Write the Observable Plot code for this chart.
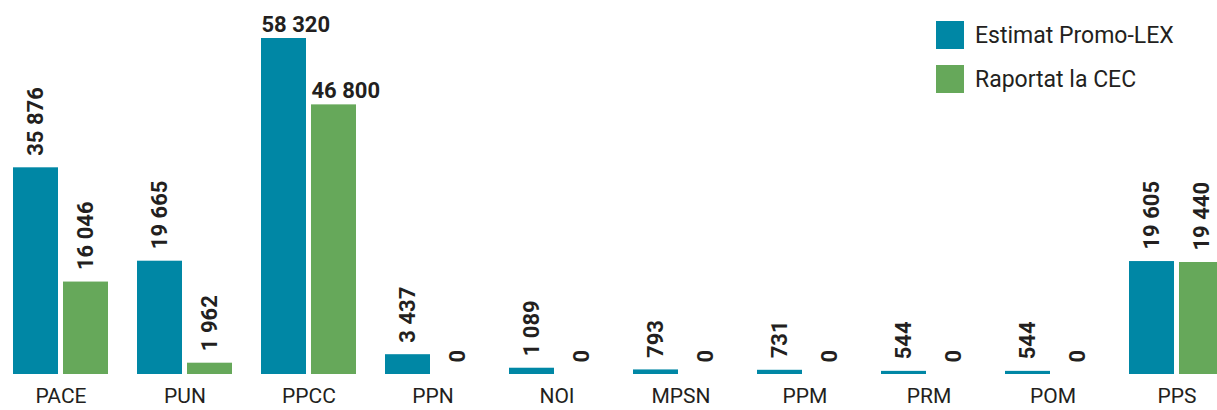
<!DOCTYPE html>
<html><head><meta charset="utf-8">
<script src="https://cdn.jsdelivr.net/npm/d3@7"></script>
<script src="https://cdn.jsdelivr.net/npm/@observablehq/plot@0.6"></script>
<style>
body{margin:0;background:#fff;font-family:Roboto,sans-serif;}
#wrap{position:relative;width:1217px;height:410px;overflow:hidden;}
#legend{position:absolute;left:936px;top:21px;}
.item{display:flex;align-items:center;height:28px;margin-bottom:16px;font-size:23px;color:#231f20;}
.sw{width:28px;height:28px;margin-right:11px;flex:none;}
</style></head><body><div id="wrap"><div id="chart"></div><div id="legend"></div></div>
<script>
const categories = ["PACE","PUN","PPCC","PPN","NOI","MPSN","PPM","PRM","POM","PPS"];
const seriesNames = ["Estimat Promo-LEX","Raportat la CEC"];
const estimat = [35876,19665,58320,3437,1089,793,731,544,544,19605];
const raportat = [16046,1962,46800,0,0,0,0,0,0,19440];
const colors = ["#0087a5","#66a85a"];
const horizontalLabelCategories = ["PPCC"];

const locale = d3.formatLocale({decimal:",", thousands:" ", grouping:[3], currency:["",""]});
const fmt = locale.format(",d");

const rows = [];
categories.forEach((c,i)=>{
  rows.push({category:c, series:seriesNames[0], value:estimat[i]});
  rows.push({category:c, series:seriesNames[1], value:raportat[i]});
});
const isH = d => horizontalLabelCategories.includes(d.category);
const textColor = "#231f20";

const chart = Plot.plot({
  width:1217, height:410,
  marginTop:0, marginBottom:36, marginLeft:0, marginRight:0,
  style:{fontFamily:"Roboto, sans-serif", overflow:"visible", background:"transparent"},
  fx:{domain:categories, range:[10,1226], paddingInner:0.2366, paddingOuter:0, label:null},
  x:{domain:seriesNames, paddingInner:0.1, paddingOuter:0, axis:null},
  y:{domain:[0,64916], axis:null},
  color:{domain:seriesNames, range:colors},
  marks:[
    Plot.barY(rows,{fx:"category", x:"series", y:"value", fill:"series"}),
    Plot.text(rows.filter(d=>!isH(d)),{fx:"category", x:"series", y:"value", text:d=>fmt(d.value),
      rotate:-90, textAnchor:"start", dy:-12, fontWeight:"bold", fontSize:22, fill:textColor}),
    Plot.text(rows.filter(isH),{fx:"category", x:"series", y:"value", text:d=>fmt(d.value),
      textAnchor:"start", lineAnchor:"bottom", dx:-22.5, dy:-7, fontWeight:"bold", fontSize:22, fill:textColor}),
    Plot.axisFx({anchor:"bottom", tickSize:0, tickPadding:14, fontSize:21, fill:textColor, label:null})
  ]
});
document.getElementById("chart").appendChild(chart);

const legend = document.getElementById("legend");
seriesNames.forEach((s,i)=>{
  const it = document.createElement("div"); it.className="item";
  const sw = document.createElement("div"); sw.className="sw"; sw.style.background=colors[i];
  const t = document.createElement("span"); t.textContent=s;
  it.appendChild(sw); it.appendChild(t); legend.appendChild(it);
});
</script></body></html>
